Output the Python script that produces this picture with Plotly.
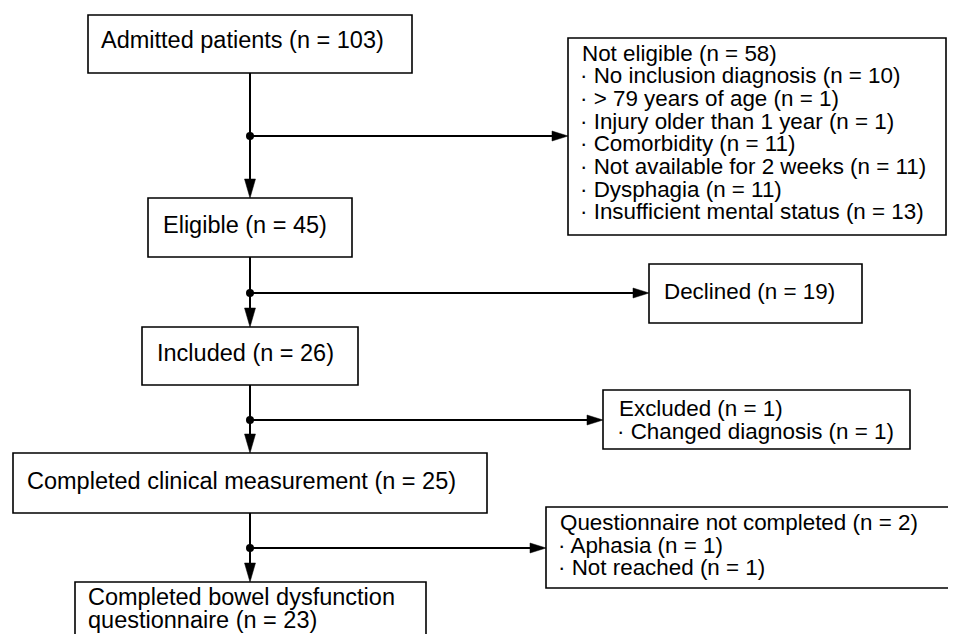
import plotly.graph_objects as go

# ---- data ----
main_labels = ["Admitted patients", "Eligible", "Included",
               "Completed clinical measurement",
               "Completed bowel dysfunction|questionnaire"]
main_n = [103, 45, 26, 25, 23]

side_labels = ["Not eligible", "Declined", "Excluded", "Questionnaire not completed"]
side_n = [58, 19, 1, 2]

not_eligible_reasons = ["No inclusion diagnosis", "> 79 years of age",
                        "Injury older than 1 year", "Comorbidity",
                        "Not available for 2 weeks", "Dysphagia",
                        "Insufficient mental status"]
not_eligible_n = [10, 1, 1, 11, 11, 11, 13]
declined_reasons = []
declined_n = []
excluded_reasons = ["Changed diagnosis"]
excluded_n = [1]
questionnaire_reasons = ["Aphasia", "Not reached"]
questionnaire_n = [1, 1]

side_reasons = [(not_eligible_reasons, not_eligible_n),
                (declined_reasons, declined_n),
                (excluded_reasons, excluded_n),
                (questionnaire_reasons, questionnaire_n)]

# ---- layout geometry (window pixels) ----
W, H = 956, 634
OFF = 8  # page body margin
main_boxes = [(88, 412, 15, 73), (148, 352, 198, 257), (142, 358, 327, 385),
              (13, 487, 453, 513), (75, 426, 582, 660)]
main_text = [(100, 40), (162, 224.5), (156, 353), (26, 481), (87, 597)]
side_boxes = [(568, 946, 38, 235), (649, 862, 264, 323),
              (603, 910, 390, 449), (546, 953, 507, 588)]
side_text = [(580.5, 53), (662.5, 291), (617.5, 408.5), (558.5, 522.5)]
branch_y = [136, 293, 420, 548]
spine_x = 250
line_step = 22.7
FAM = "Liberation Sans, Arial, Helvetica, sans-serif"
MAIN_FONT = dict(family=FAM, size=23.5, color="#000")
SIDE_FONT = dict(family=FAM, size=22.4, color="#000")
LC = "#000"

fig = go.Figure()
shapes = []
annotations = []

def add_text(x, y, s, font):
    annotations.append(dict(x=x, y=y, xref="x", yref="y", text=s, showarrow=False,
                            xanchor="left", yanchor="middle", font=font,
                            borderpad=0))

# boxes
for (x0, x1, y0, y1) in main_boxes + side_boxes:
    shapes.append(dict(type="rect", x0=x0, x1=x1, y0=y0, y1=y1,
                       line=dict(color=LC, width=1.6), fillcolor="white", layer="above"))

# main texts
for (lbl, n, (tx, ty)) in zip(main_labels, main_n, main_text):
    parts = lbl.split("|")
    parts[-1] = parts[-1] + f" (n = {n})"
    for i, p in enumerate(parts):
        add_text(tx, ty + i * line_step, p, MAIN_FONT)

# side texts
for (lbl, n, (tx, ty), (reasons, rn)) in zip(side_labels, side_n, side_text, side_reasons):
    add_text(tx, ty, f"{lbl} (n = {n})", SIDE_FONT)
    for i, (r, k) in enumerate(zip(reasons, rn)):
        add_text(tx - 1.5, ty + (i + 1) * line_step, f"· {r} (n = {k})", SIDE_FONT)

# connectors
AL_V, AW_V = 19, 5.5
AL_H, AW_H = 16, 5
for i in range(4):
    top = main_boxes[i][3]
    nxt = main_boxes[i + 1][2]
    by = branch_y[i]
    sx0 = side_boxes[i][0]
    shapes.append(dict(type="line", x0=spine_x, x1=spine_x, y0=top, y1=nxt - AL_V + 2,
                       line=dict(color=LC, width=2)))
    shapes.append(dict(type="path",
                       path=f"M {spine_x - AW_V} {nxt - AL_V} L {spine_x + AW_V} {nxt - AL_V} L {spine_x} {nxt} Z",
                       fillcolor=LC, line=dict(color=LC, width=0.5)))
    shapes.append(dict(type="line", x0=spine_x, x1=sx0 - AL_H + 2, y0=by, y1=by,
                       line=dict(color=LC, width=2)))
    shapes.append(dict(type="path",
                       path=f"M {sx0 - AL_H} {by - AW_H} L {sx0 - AL_H} {by + AW_H} L {sx0} {by} Z",
                       fillcolor=LC, line=dict(color=LC, width=0.5)))

fig.add_trace(go.Scatter(x=[spine_x] * 4, y=branch_y, mode="markers",
                         marker=dict(color=LC, size=8), hoverinfo="skip"))

fig.update_layout(width=W - OFF, height=H - OFF, margin=dict(l=0, r=0, t=0, b=0),
                  paper_bgcolor="white", plot_bgcolor="white", showlegend=False,
                  shapes=shapes, annotations=annotations,
                  xaxis=dict(range=[OFF, W], visible=False, fixedrange=True),
                  yaxis=dict(range=[H, OFF], visible=False, fixedrange=True))
fig.write_html("out.html")
